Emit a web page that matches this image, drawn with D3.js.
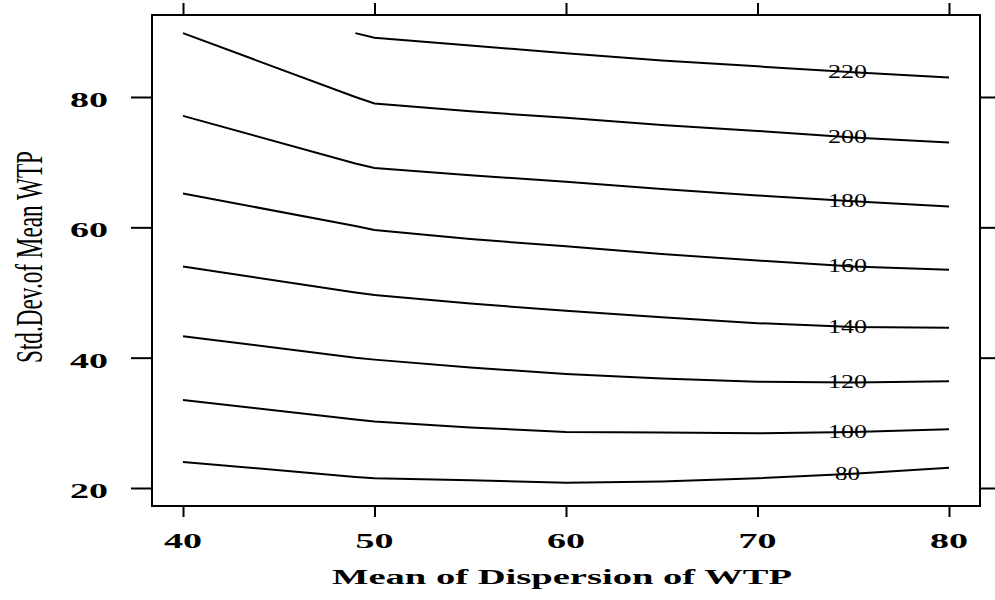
<!DOCTYPE html>
<html>
<head>
<meta charset="utf-8">
<script src="https://cdn.jsdelivr.net/npm/d3@7"></script>
<style>
  html, body { margin: 0; padding: 0; background: #fff; }
  svg { display: block; }
</style>
</head>
<body>
<svg id="chart" width="995" height="600"></svg>
<script>
// ---- data ----
const xKnots = [40, 49, 50, 55, 60, 65, 70, 75, 80];
const levels = [80, 100, 120, 140, 160, 180, 200, 220];
const contour80  = [24.0, 21.7, 21.5, 21.2, 20.8, 21.0, 21.5, 22.2, 23.1];
const contour100 = [33.5, 30.5, 30.2, 29.3, 28.6, 28.5, 28.4, 28.6, 29.0];
const contour120 = [43.3, 40.0, 39.7, 38.5, 37.5, 36.8, 36.3, 36.2, 36.4];
const contour140 = [54.0, 50.0, 49.6, 48.3, 47.2, 46.2, 45.3, 44.7, 44.6];
const contour160 = [65.2, 60.2, 59.6, 58.2, 57.1, 55.9, 54.9, 54.0, 53.5];
const contour180 = [77.1, 69.8, 69.1, 68.0, 67.0, 65.9, 64.9, 64.0, 63.2];
const contour200 = [89.8, 80.0, 79.0, 77.8, 76.8, 75.7, 74.8, 73.8, 73.0];
const contour220 = [null, 89.8, 89.1, 87.9, 86.7, 85.6, 84.7, 83.8, 83.0];
const contourValues = [contour80, contour100, contour120, contour140, contour160, contour180, contour200, contour220];
const xTicks = [40, 50, 60, 70, 80];
const yTicks = [20, 40, 60, 80];
const xTitle = "Mean of Dispersion of WTP";
const yTitle = "Std.Dev.of Mean WTP";
const labelAt = 74.7;

// ---- layout ----
const L = 152, R = 980, T = 15, B = 506;
const x = d3.scaleLinear().domain([38.381, 81.619]).range([L, R]);
const y = d3.scaleLinear().domain([17.238, 92.583]).range([B, T]);

const svg = d3.select("#chart");
const serif = "'Liberation Serif', 'Times New Roman', serif";

// contour lines
const line = d3.line()
  .defined(d => d[1] != null)
  .x(d => x(d[0]))
  .y(d => y(d[1]));

contourValues.forEach((vals, i) => {
  const pts = xKnots.map((k, j) => [k, vals[j]]);
  svg.append("path")
    .attr("d", line(pts))
    .attr("fill", "none")
    .attr("stroke", "#000")
    .attr("stroke-width", 2);
});

// contour labels
function interp(vals, xv) {
  for (let j = 0; j < xKnots.length - 1; j++) {
    if (xv >= xKnots[j] && xv <= xKnots[j + 1]) {
      const t = (xv - xKnots[j]) / (xKnots[j + 1] - xKnots[j]);
      return vals[j] + t * (vals[j + 1] - vals[j]);
    }
  }
  return vals[vals.length - 1];
}
contourValues.forEach((vals, i) => {
  const lab = String(levels[i]);
  const yv = interp(vals, labelAt);
  svg.append("text")
    .attr("x", x(labelAt))
    .attr("y", y(yv) + 6)
    .attr("text-anchor", "middle")
    .attr("font-family", serif)
    .attr("font-size", 18)
    .attr("textLength", lab.length === 3 ? 39 : 25)
    .attr("lengthAdjust", "spacingAndGlyphs")
    .attr("fill", "#000")
    .text(lab);
});

// frame
svg.append("rect")
  .attr("x", L).attr("y", T)
  .attr("width", R - L).attr("height", B - T)
  .attr("fill", "none").attr("stroke", "#000").attr("stroke-width", 2);

// axes
const axB = svg.append("g").attr("transform", `translate(0,${B})`)
  .call(d3.axisBottom(x).tickValues(xTicks).tickSize(11).tickFormat(""));
const axT = svg.append("g").attr("transform", `translate(0,${T})`)
  .call(d3.axisTop(x).tickValues(xTicks).tickSize(12).tickFormat(""));
const axL = svg.append("g").attr("transform", `translate(${L},0)`)
  .call(d3.axisLeft(y).tickValues(yTicks).tickSize(21).tickFormat(""));
const axR = svg.append("g").attr("transform", `translate(${R},0)`)
  .call(d3.axisRight(y).tickValues(yTicks).tickSize(16).tickFormat(""));
[axB, axT, axL, axR].forEach(g => {
  g.select(".domain").remove();
  g.selectAll(".tick line").attr("stroke", "#000").attr("stroke-width", 2);
});

// tick labels
svg.append("g").selectAll("text").data(xTicks).join("text")
  .attr("x", d => x(d))
  .attr("y", 548)
  .attr("text-anchor", "middle")
  .attr("font-family", serif)
  .attr("font-weight", "bold")
  .attr("font-size", 22)
  .attr("textLength", 38)
  .attr("lengthAdjust", "spacingAndGlyphs")
  .text(d => d);

svg.append("g").selectAll("text").data(yTicks).join("text")
  .attr("x", 108)
  .attr("y", d => y(d) + 10)
  .attr("text-anchor", "end")
  .attr("font-family", serif)
  .attr("font-weight", "bold")
  .attr("font-size", 22)
  .attr("textLength", 38)
  .attr("lengthAdjust", "spacingAndGlyphs")
  .text(d => d);

// axis titles
svg.append("text")
  .attr("x", 562).attr("y", 584)
  .attr("text-anchor", "middle")
  .attr("font-family", serif)
  .attr("font-weight", "bold")
  .attr("font-size", 20)
  .attr("textLength", 460)
  .attr("lengthAdjust", "spacingAndGlyphs")
  .text(xTitle);

svg.append("text")
  .attr("transform", "translate(42,257) rotate(-90)")
  .attr("text-anchor", "middle")
  .attr("font-family", serif)
  .attr("font-size", 37)
  .attr("textLength", 212)
  .attr("lengthAdjust", "spacingAndGlyphs")
  .text(yTitle);
</script>
</body>
</html>
